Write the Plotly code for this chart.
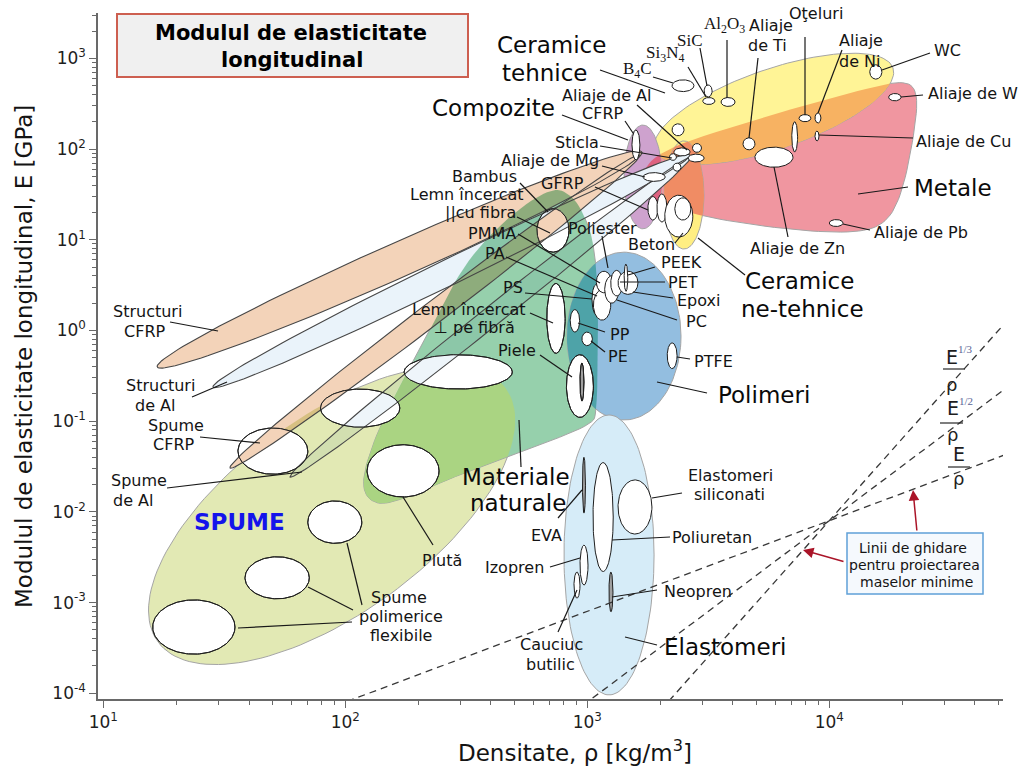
import numpy as np
import plotly.graph_objects as go

# ------------------------------------------------------------------ values
# Families shaped as axis-aligned ellipses: density [kg/m3], modulus [GPa]
axis_fam_names = ["Polimeri", "Elastomeri", "Ceramice ne-tehnice", "Compozite"]
axis_fam_rho_lo = [824, 801, 2075, 1418]
axis_fam_rho_hi = [2440, 1888, 3036, 2035]
axis_fam_E_lo = [0.103, 9.6e-5, 7.9, 13.2]
axis_fam_E_hi = [7.3, 0.117, 123, 184]

# Families shaped as tilted ellipses: ends of the long axis, width/length
tilt_fam_names = ["Spume", "Ceramice tehnice"]
tilt_fam_rho_a = [16.8, 1905]
tilt_fam_E_a = [3.7e-4, 97.8]
tilt_fam_rho_b = [461, 18340]
tilt_fam_E_b = [0.229, 784]
tilt_fam_ratio = [0.456, 0.317]

# Metals envelope outline
metal_rho = [1650, 2000, 5170, 13400, 20550, 23250, 22600, 20200, 17480, 13400, 7570, 3535, 2200, 1730]
metal_E = [51.8, 97.8, 220, 448, 578, 426, 162, 35.4, 15.7, 11.9, 12.5, 16.5, 22.4, 31.2]

# Natural materials envelope outline
natural_rho = [1026, 527, 306, 204, 146, 124, 117, 129, 160, 224, 312, 479, 688, 809, 951, 1107, 1107]
natural_E = [0.0885, 0.0457, 0.0268, 0.0166, 0.0119, 0.0135, 0.0214, 0.0547, 0.195, 1.01, 5.69, 18.8,
             35.4, 35.4, 22.4, 6.8, 0.126]

# Structures and foams made from CFRP and aluminium
band_names = ["Structuri de Al", "Spume de Al", "Structuri CFRP", "Spume CFRP"]
band_rho_a = [28.4, 59.1, 16.7, 33.4]
band_E_a = [0.238, 0.0243, 0.396, 0.0305]
band_rho_b = [2657, 2657, 1683, 1651]
band_E_b = [86.1, 79.8, 92.9, 86.1]
band_ratio = [0.049, 0.039, 0.066, 0.043]

# Foams and natural materials
soft_names = ["Spumă 1", "Spumă 2", "Spumă 3", "Plută", "Spumă 4", "Spumă 5", "Spumă 6",
              "Bambus", "Lemn perpendicular", "Piele", "Piele (fibră)"]
soft_rho_lo = [16, 38.5, 70, 123, 36, 79, 175, 620, 680, 820, 933]
soft_rho_hi = [35, 71, 117, 244, 70, 168, 490, 840, 810, 1060, 969]
soft_E_lo = [2.7e-4, 1.1e-3, 4.5e-3, 0.0146, 0.026, 0.086, 0.226, 7.3, 0.56, 0.11, 0.167]
soft_E_hi = [1.07e-3, 3.2e-3, 0.0132, 0.055, 0.084, 0.226, 0.54, 22, 3.3, 0.54, 0.438]

# Polymers and elastomers
poly_names = ["PP", "PE", "PTFE", "PS", "PC", "PA", "PMMA", "Epoxi", "PET", "PEEK",
              "Poliuretan", "Siliconi", "EVA", "Izopren", "Cauciuc butilic", "Neopren"]
poly_rho_lo = [850, 950, 2140, 1046, 1060, 1090, 1180, 1250, 1340, 1420, 1056, 1340, 955, 933, 881, 1229]
poly_rho_hi = [930, 1050, 2350, 1130, 1250, 1260, 1350, 1400, 1620, 1470, 1280, 1850, 983, 1007, 933, 1277]
poly_E_lo = [0.96, 0.68, 0.38, 1.5, 1.3, 2.6, 2.0, 2.4, 2.5, 2.7, 0.0022, 0.0057, 0.0097, 0.00156, 0.00112, 7.9e-4]
poly_E_hi = [1.7, 0.96, 0.73, 3.2, 2.8, 4.5, 4.0, 4.6, 4.5, 5.4, 0.035, 0.0225, 0.040, 0.0043, 0.00217, 0.00217]

# Metals, ceramics, glasses and composites
hard_names = ["B4C", "SiC", "Si3N4", "Al2O3", "Sticlă ceramică", "Ti", "Zn", "Oţel", "Ni", "Fontă",
              "Cu", "WC", "W", "Pb", "Al", "Al turnat", "Al forjat", "Sticlă", "Sticlă 2", "Mg",
              "CFRP", "GFRP", "GFRP 2", "Beton", "Piatră"]
hard_rho_lo = [2240, 3040, 3000, 3570, 2240, 4400, 4930, 7500, 8730, 7000, 8730, 14700, 17600, 10000,
               2280, 2610, 2720, 2186, 2262, 1700, 1530, 1780, 1940, 2090, 2300]
hard_rho_hi = [2760, 3280, 3370, 4080, 2510, 4930, 7080, 8400, 9240, 7400, 9070, 16500, 19800, 11400,
               2660, 3040, 2965, 2336, 2439, 2100, 1650, 1960, 2135, 2730, 2680]
hard_E_lo = [430, 375, 310, 295, 140, 98, 63, 200, 194, 93, 123, 590, 340, 14, 84, 72, 92, 75, 57, 44,
             76, 16.5, 15.7, 10.7, 16.5]
hard_E_hi = [580, 510, 370, 370, 190, 133, 105, 240, 250, 200, 158, 850, 410, 16.7, 103, 88, 115, 89, 70,
             55, 162, 30, 32, 31, 29]

gray_materials = {"Piele (fibră)", "EVA", "Neopren"}

# Minimum-mass design guide lines E^(1/n)/rho = const, through a common point
guide_rho0 = 1.0e4
guide_E0 = 8.0e-3
guide_exponents = [1, 2, 3]

# ------------------------------------------------------------------ layout geometry
W, H = 1029, 770
ML, MR, MT, MB = 98, 26, 13, 71
X_RANGE = (0.978, 4.718)
Y_RANGE = (-4.063, 3.50)
PW, PH = W - ML - MR, H - MT - MB
KX = PW / (X_RANGE[1] - X_RANGE[0])
KY = PH / (Y_RANGE[1] - Y_RANGE[0])
FONT = "DejaVu Sans"

T = np.linspace(0, 2 * np.pi, 140, endpoint=False)


def disp(rho, E):
    return np.log10(rho) * KX, np.log10(E) * KY


def undisp(P):
    return 10 ** (P[:, 0] / KX), 10 ** (P[:, 1] / KY)


def axis_ellipse(rlo, rhi, elo, ehi):
    x0, y0 = disp(rlo, elo)
    x1, y1 = disp(rhi, ehi)
    cx, cy, ax, ay = (x0 + x1) / 2, (y0 + y1) / 2, (x1 - x0) / 2, (y1 - y0) / 2
    return np.column_stack([cx + ax * np.cos(T), cy + ay * np.sin(T)])


def tilt_ellipse(ra, ea, rb, eb, ratio):
    xa, ya = disp(ra, ea)
    xb, yb = disp(rb, eb)
    c = np.array([(xa + xb) / 2, (ya + yb) / 2])
    u = np.array([xb - xa, yb - ya]) / 2
    n = np.array([-u[1], u[0]]) * ratio
    return c + np.outer(np.cos(T), u) + np.outer(np.sin(T), n)


def outline(rhos, Es, it=3):
    P = np.column_stack(disp(np.array(rhos, float), np.array(Es, float)))
    for _ in range(it):
        Q = np.roll(P, -1, axis=0)
        A, B = 0.75 * P + 0.25 * Q, 0.25 * P + 0.75 * Q
        P = np.empty((2 * len(A), 2))
        P[0::2], P[1::2] = A, B
    return P


def signed_area(P):
    return 0.5 * np.sum(P[:, 0] * np.roll(P[:, 1], -1) - np.roll(P[:, 0], -1) * P[:, 1])


def clip(subject, clipper):
    """Sutherland-Hodgman: part of `subject` inside the convex `clipper`."""
    if subject is None:
        return None
    if signed_area(clipper) < 0:
        clipper = clipper[::-1]
    out = [tuple(p) for p in subject]
    m = len(clipper)
    for i in range(m):
        if not out:
            break
        A, B = clipper[i], clipper[(i + 1) % m]
        ex, ey = B[0] - A[0], B[1] - A[1]

        def inside(p):
            return ex * (p[1] - A[1]) - ey * (p[0] - A[0]) >= 0

        def cross_pt(p, q):
            dx, dy = q[0] - p[0], q[1] - p[1]
            den = dx * ey - dy * ex
            t = ((A[0] - p[0]) * ey - (A[1] - p[1]) * ex) / den
            return (p[0] + t * dx, p[1] + t * dy)

        inp, out = out, []
        s = inp[-1]
        for p in inp:
            if inside(p):
                if not inside(s):
                    out.append(cross_pt(s, p))
                out.append(p)
            elif inside(s):
                out.append(cross_pt(s, p))
            s = p
    return np.array(out) if len(out) > 2 else None


def rgb(c):
    return "rgb(%d,%d,%d)" % c


def multiply(c1, c2):
    return tuple(int(a * b / 255) for a, b in zip(c1, c2))


fig = go.Figure()


def add_shape_trace(P, fill=None, line=None, width=1.0):
    if P is None:
        return
    rho, E = undisp(P)
    rho, E = np.append(rho, rho[0]), np.append(E, E[0])
    fig.add_trace(go.Scatter(
        x=rho, y=E, mode="lines",
        fill="toself" if fill else "none",
        fillcolor=rgb(fill) if fill else None,
        line=dict(color=line if line else "rgba(0,0,0,0)", width=width if line else 0.5),
        hoverinfo="skip", showlegend=False))


# ------------------------------------------------------------------ envelopes
ENV_EDGE = "rgb(165,165,165)"
env = {}
for i, nm in enumerate(tilt_fam_names):
    env[nm] = tilt_ellipse(tilt_fam_rho_a[i], tilt_fam_E_a[i], tilt_fam_rho_b[i], tilt_fam_E_b[i],
                           tilt_fam_ratio[i])
for i, nm in enumerate(axis_fam_names):
    env[nm] = axis_ellipse(axis_fam_rho_lo[i], axis_fam_rho_hi[i], axis_fam_E_lo[i], axis_fam_E_hi[i])
env["Metale"] = outline(metal_rho, metal_E)
env["Materiale naturale"] = outline(natural_rho, natural_E)

env_color = {
    "Spume": (226, 233, 180),
    "Materiale naturale": (150, 208, 172),
    "Polimeri": (147, 190, 224),
    "Elastomeri": (214, 236, 248),
    "Metale": (240, 150, 160),
    "Ceramice tehnice": (255, 244, 150),
    "Ceramice ne-tehnice": (255, 238, 130),
    "Compozite": (206, 162, 206),
}
overlap_color = {
    ("Materiale naturale", "Spume"): (170, 212, 130),
    ("Materiale naturale", "Polimeri"): (78, 163, 168),
    ("Metale", "Ceramice tehnice"): (247, 178, 98),
    ("Metale", "Ceramice ne-tehnice"): (240, 140, 100),
    ("Metale", "Compozite"): (222, 98, 128),
}

draw_plan = [
    "Spume", "Materiale naturale", ("Materiale naturale", "Spume"),
    "Polimeri", ("Materiale naturale", "Polimeri"), "Elastomeri",
    "Metale", "Ceramice tehnice", ("Metale", "Ceramice tehnice"),
    "Ceramice ne-tehnice", ("Metale", "Ceramice ne-tehnice"),
    "Compozite", ("Metale", "Compozite"),
]
for item in draw_plan:
    if isinstance(item, tuple):
        add_shape_trace(clip(env[item[0]], env[item[1]]), fill=overlap_color[item])
    else:
        add_shape_trace(env[item], fill=env_color[item], line=ENV_EDGE, width=1)

# ------------------------------------------------------------------ structure bands
band_color = {
    "Structuri de Al": (234, 243, 250),
    "Spume de Al": (238, 245, 250),
    "Structuri CFRP": (243, 211, 185),
    "Spume CFRP": (243, 211, 185),
}
natural_foam = clip(env["Materiale naturale"], env["Spume"])
bands = [tilt_ellipse(band_rho_a[i], band_E_a[i], band_rho_b[i], band_E_b[i], band_ratio[i])
         for i in range(len(band_names))]
for nm, B in zip(band_names, bands):
    add_shape_trace(B, fill=band_color[nm])
    for base in ["Spume", "Materiale naturale"]:
        add_shape_trace(clip(env[base], B), fill=multiply(band_color[nm], env_color[base]))
    add_shape_trace(clip(natural_foam, B),
                    fill=multiply(band_color[nm], overlap_color[("Materiale naturale", "Spume")]))

# ------------------------------------------------------------------ individual materials
BUB_EDGE = "rgb(30,30,30)"
WHITE = (255, 255, 255)
GRAY = (160, 160, 160)

soft = [axis_ellipse(soft_rho_lo[i], soft_rho_hi[i], soft_E_lo[i], soft_E_hi[i]) for i in range(len(soft_names))]
for nm, P in zip(soft_names, soft):
    add_shape_trace(P, fill=GRAY if nm in gray_materials else WHITE, line=BUB_EDGE, width=1)
# the bands pass over the foam and wood bubbles
for nm, B in zip(band_names, bands):
    for bn, P in zip(soft_names, soft):
        if bn not in gray_materials:
            add_shape_trace(clip(P, B), fill=band_color[nm])
for B in bands:
    add_shape_trace(B, line="rgb(70,70,70)", width=1.1)
for P in soft:
    add_shape_trace(P, line=BUB_EDGE, width=1)

for i, nm in enumerate(poly_names):
    P = axis_ellipse(poly_rho_lo[i], poly_rho_hi[i], poly_E_lo[i], poly_E_hi[i])
    add_shape_trace(P, fill=GRAY if nm in gray_materials else WHITE, line=BUB_EDGE, width=1)
for i, nm in enumerate(hard_names):
    P = axis_ellipse(hard_rho_lo[i], hard_rho_hi[i], hard_E_lo[i], hard_E_hi[i])
    add_shape_trace(P, fill=WHITE, line=BUB_EDGE, width=1)

# ------------------------------------------------------------------ guide lines
rho_line = np.array([10 ** 0.8, 10 ** 4.9])
for n in guide_exponents:
    fig.add_trace(go.Scatter(
        x=rho_line, y=guide_E0 * (rho_line / guide_rho0) ** n, mode="lines",
        line=dict(color="rgb(55,55,55)", width=1.3, dash="7px,5px"),
        hoverinfo="skip", showlegend=False))


# ------------------------------------------------------------------ annotations
def fx(px):
    return (px - ML) / PW


def fy(py):
    return (H - MB - py) / PH


annotations = []
shapes = []


def label(text, x, y, size=16, color="rgb(20,20,20)", family=FONT, bold=False, angle=0):
    if bold:
        text = "<b>%s</b>" % text
    annotations.append(dict(text=text, x=fx(x), y=fy(y), xref="paper", yref="paper",
                            xanchor="center", yanchor="middle", showarrow=False, textangle=angle,
                            font=dict(size=size, color=color, family=family)))


def seg(x0, y0, x1, y1, color="rgb(25,25,25)", width=1.2):
    shapes.append(dict(type="line", xref="paper", yref="paper", x0=fx(x0), y0=fy(y0),
                       x1=fx(x1), y1=fy(y1), line=dict(color=color, width=width)))


big = [("Ceramice", 551, 45), ("tehnice", 545, 73), ("Compozite", 493, 108), ("Metale", 953, 188),
       ("Ceramice", 799, 281), ("ne-tehnice", 802, 309), ("Polimeri", 764, 395),
       ("Materiale", 516, 477), ("naturale", 518, 503), ("Elastomeri", 725, 647)]
for t, x, y in big:
    label(t, x, y, size=23, color="rgb(10,10,10)")

small = [("Structuri", 147, 312), ("CFRP", 144, 331), ("Structuri", 160, 385), ("de Al", 155, 405),
         ("Spume", 176, 425), ("CFRP", 173, 445), ("Spume", 139, 480), ("de Al", 133, 500),
         ("Plută", 442, 560), ("Spume", 399, 597), ("polimerice", 401, 616), ("flexibile", 401, 635),
         ("Bambus", 484, 176), ("Lemn încercat", 467, 194), ("||cu fibra", 480, 213),
         ("PMMA", 492, 233), ("PA", 495, 253), ("Poliester", 602, 228), ("PS", 513, 287),
         ("Lemn încercat", 469, 310), ("⊥ pe fibră", 474, 328), ("Piele", 517, 350),
         ("PP", 620, 334), ("PE", 618, 356), ("PEEK", 681, 262), ("PET", 683, 282),
         ("Epoxi", 698, 300), ("PC", 696, 321), ("PTFE", 713, 361), ("Beton", 651, 245),
         ("GFRP", 562, 183), ("Aliaje de Mg", 550, 160), ("Sticla", 577, 143),
         ("Aliaje de Al", 607, 95), ("CFRP", 602, 114), ("Aliaje", 771, 25), ("de Ti", 767, 45),
         ("Oţeluri", 816, 13), ("Aliaje", 861, 40), ("de Ni", 860, 62), ("WC", 947, 50),
         ("Aliaje de W", 973, 94), ("Aliaje de Cu", 963, 141), ("Aliaje de Pb", 921, 232),
         ("Aliaje de Zn", 797, 248), ("Elastomeri", 730, 475), ("siliconati", 729, 495),
         ("EVA", 546, 535), ("Poliuretan", 712, 537), ("Izopren", 514, 567), ("Neopren", 698, 591),
         ("Cauciuc", 551, 644), ("butilic", 550, 664)]
for t, x, y in small:
    label(t, x, y, size=16)

for t, x, y in [("B<sub>4</sub>C", 637, 70), ("Si<sub>3</sub>N<sub>4</sub>", 665, 54),
                ("SiC", 690, 40), ("Al<sub>2</sub>O<sub>3</sub>", 724, 25)]:
    label(t, x, y, size=17, family="Liberation Serif")

label("SPUME", 239, 522, size=23, color="rgb(20,20,235)", bold=True)

leaders = [
    (600, 70, 665, 93), (562, 115, 628, 140), (908, 187, 858, 194), (745, 275, 698, 238),
    (707, 393, 657, 382), (521, 467, 519, 420), (657, 645, 625, 637),
    (170, 322, 218, 331), (192, 397, 227, 382), (200, 437, 260, 443), (167, 488, 302, 472),
    (433, 545, 403, 497), (353, 610, 308, 587), (362, 605, 347, 543), (352, 622, 238, 628),
    (520, 183, 548, 212), (517, 217, 550, 233), (518, 234, 600, 283), (506, 257, 597, 296),
    (602, 236, 608, 268), (525, 293, 592, 299), (530, 313, 553, 323), (540, 355, 572, 377),
    (605, 332, 578, 323), (605, 352, 591, 341), (655, 267, 628, 275), (665, 282, 620, 282),
    (673, 298, 633, 292), (677, 320, 617, 300), (690, 359, 677, 357), (675, 243, 683, 233),
    (595, 187, 648, 210), (602, 166, 645, 177), (600, 146, 672, 158), (637, 105, 687, 150),
    (625, 121, 633, 133), (653, 77, 673, 83), (688, 67, 706, 97), (700, 48, 707, 86),
    (727, 40, 727, 98), (758, 58, 749, 138), (805, 37, 805, 115), (842, 50, 818, 113),
    (930, 53, 882, 70), (923, 95, 901, 97), (913, 138, 819, 135), (870, 230, 843, 224),
    (788, 237, 774, 167), (682, 493, 652, 498), (558, 518, 582, 490), (670, 537, 612, 540),
    (550, 567, 580, 558), (657, 590, 612, 597), (558, 632, 577, 590),
]
for x0, y0, x1, y1 in leaders:
    seg(x0, y0, x1, y1)

# title box
shapes.append(dict(type="rect", xref="paper", yref="paper", x0=fx(117), x1=fx(468), y0=fy(77), y1=fy(14),
                   fillcolor="rgb(240,240,240)", line=dict(color="rgb(205,95,80)", width=2), layer="above"))
label("Modulul de elasticitate", 291, 33, size=21, color="black", bold=True)
label("longitudinal", 292, 60, size=21, color="black", bold=True)

# guide-line labels
for e_xy, sup, sup_xy, bar, rho_xy in [
        ((952, 357), "1/3", (965, 349), (943, 965, 369), (951, 384)),
        ((953, 408), "1/2", (966, 401), (940, 963, 423), (952, 434)),
        ((959, 454), None, None, (948, 970, 467), (958, 478))]:
    label("E", e_xy[0], e_xy[1], size=19, color="rgb(30,30,30)")
    if sup:
        label(sup, sup_xy[0], sup_xy[1], size=11, color="rgb(90,100,150)", family="Liberation Serif")
    seg(bar[0], bar[2], bar[1], bar[2], color="rgb(40,40,40)", width=1.2)
    label("ρ", rho_xy[0], rho_xy[1], size=18, color="rgb(30,30,30)")

# call-out box with red arrows
shapes.append(dict(type="rect", xref="paper", yref="paper", x0=fx(847), x1=fx(983), y0=fy(594), y1=fy(533),
                   fillcolor="rgb(245,249,253)", line=dict(color="rgb(95,160,215)", width=1.5), layer="above"))
label("Linii de ghidare", 913, 548, size=14)
label("pentru proiectarea", 914, 565, size=14)
label("maselor minime", 916, 582, size=14)
for hx, hy, tx, ty in [(913, 490, 917, 532), (803, 550, 845, 562)]:
    annotations.append(dict(x=fx(hx), y=fy(hy), xref="paper", yref="paper", text="",
                            showarrow=True, ax=tx - hx, ay=ty - hy, axref="pixel", ayref="pixel",
                            arrowhead=2, arrowsize=1.4, arrowwidth=1.5, arrowcolor="rgb(170,20,40)"))

# axis titles
label("Densitate, ρ [kg/m<sup>3</sup>]", 575, 751, size=23, color="rgb(20,20,20)")
label("Modulul de elasticitate longitudinal, E [GPa]", 24, 357, size=23, color="rgb(20,20,20)", angle=-90)

# ------------------------------------------------------------------ axes
x_major = [10, 100, 1000, 10000]
y_major = [1e-4, 1e-3, 1e-2, 1e-1, 1, 10, 100, 1000]
x_minor = [m * d for d in [10, 100, 1000, 10000] for m in range(2, 10)]
y_minor = [m * d for d in y_major for m in range(2, 10)]

axis_common = dict(type="log", showgrid=False, zeroline=False, showline=True,
                   linecolor="rgb(105,105,105)", linewidth=1.5, ticks="outside",
                   tickcolor="rgb(105,105,105)", tickwidth=1.2, ticklen=7,
                   tickfont=dict(family=FONT, size=17, color="rgb(30,30,30)"), mirror=False)

fig.update_xaxes(range=list(X_RANGE), tickmode="array", tickvals=x_major,
                 ticktext=["10<sup>1</sup>", "10<sup>2</sup>", "10<sup>3</sup>", "10<sup>4</sup>"],
                 minor=dict(tickmode="array", tickvals=x_minor, ticks="outside", ticklen=4,
                            tickcolor="rgb(105,105,105)", showgrid=False),
                 **axis_common)
fig.update_yaxes(range=list(Y_RANGE), tickmode="array", tickvals=y_major,
                 ticktext=["10<sup>-4</sup>", "10<sup>-3</sup>", "10<sup>-2</sup>", "10<sup>-1</sup>",
                           "10<sup>0</sup>", "10<sup>1</sup>", "10<sup>2</sup>", "10<sup>3</sup>"],
                 minor=dict(tickmode="array", tickvals=y_minor, ticks="outside", ticklen=4,
                            tickcolor="rgb(105,105,105)", showgrid=False),
                 **axis_common)

fig.update_layout(width=W, height=H, margin=dict(l=ML, r=MR, t=MT, b=MB),
                  paper_bgcolor="white", plot_bgcolor="white", showlegend=False,
                  font=dict(family=FONT), annotations=annotations, shapes=shapes)

fig.write_html("out.html", config={"displayModeBar": False})
